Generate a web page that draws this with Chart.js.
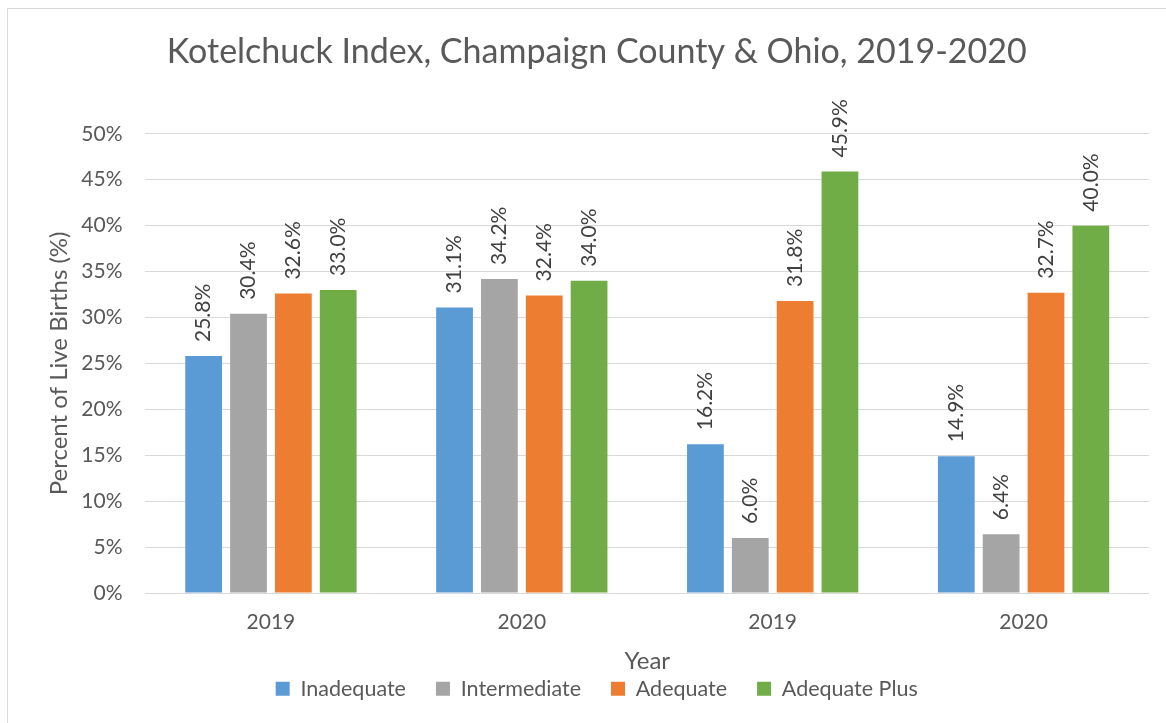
<!DOCTYPE html>
<html>
<head>
<meta charset="utf-8">
<script src="https://cdn.jsdelivr.net/npm/chart.js@4.4.0/dist/chart.umd.min.js"></script>
<style>
    html, body { margin: 0; padding: 0; background: #ffffff; }
    #wrap { position: relative; width: 1166px; height: 723px; }
</style>
</head>
<body>
<div id="wrap"><canvas id="kotelChart"></canvas></div>
<script>
// chart data
var years = ['2019', '2020', '2019', '2020']
var inadequate = [25.8, 31.1, 16.2, 14.9]
var intermediate = [30.4, 34.2, 6.0, 6.4]
var adequate = [32.6, 32.4, 31.8, 32.7]
var adequatePlus = [33.0, 34.0, 45.9, 40.0]
var yTicks = [0, 5, 10, 15, 20, 25, 30, 35, 40, 45, 50]

var FONT = 'Lato, "Open Sans", sans-serif'
var GREY_TEXT = '#595959'

// outer frame like the spreadsheet chart box
var framePlugin = {
    id: 'frame',
    beforeDraw: function (chart) {
        var ctx = chart.ctx
        ctx.save()
        ctx.fillStyle = '#ffffff'
        ctx.fillRect(0, 0, chart.width, chart.height)
        ctx.strokeStyle = '#d9d9d9'
        ctx.lineWidth = 1
        ctx.strokeRect(7.5, 8.5, chart.width, chart.height)
        ctx.restore()
    }
}

// rotated value labels above each bar
var valueLabels = {
    id: 'valueLabels',
    afterDatasetsDraw: function (chart) {
        var ctx = chart.ctx
        ctx.save()
        ctx.font = '21px ' + FONT
        ctx.fillStyle = '#404040'
        ctx.textAlign = 'left'
        ctx.textBaseline = 'middle'
        chart.data.datasets.forEach(function (ds, i) {
            chart.getDatasetMeta(i).data.forEach(function (bar, j) {
                ctx.save()
                ctx.translate(bar.x, bar.y - 14)
                ctx.rotate(-Math.PI / 2)
                ctx.fillText(ds.data[j].toFixed(1) + '%', 0, 0)
                ctx.restore()
            })
        })
        ctx.restore()
    }
}

var ctx1 = document.getElementById('kotelChart')

var kotelChart = new Chart(ctx1, {
    type: 'bar',
    data: {
        labels: years,
        datasets: [
            { label: 'Inadequate', data: inadequate, backgroundColor: '#5b9bd5' },
            { label: 'Intermediate', data: intermediate, backgroundColor: '#a5a5a5' },
            { label: 'Adequate', data: adequate, backgroundColor: '#ed7d31' },
            { label: 'Adequate Plus', data: adequatePlus, backgroundColor: '#70ad47' }
        ]
    },
    options: {
        responsive: true,
        maintainAspectRatio: false,
        animation: false,
        devicePixelRatio: 1,
        layout: {
            padding: { top: 32, right: 17, bottom: 13.5, left: 44.5 }
        },
        datasets: {
            bar: {
                categoryPercentage: 0.715,
                barPercentage: 0.82
            }
        },
        plugins: {
            title: {
                display: true,
                text: 'Kotelchuck Index, Champaign County & Ohio, 2019-2020',
                color: GREY_TEXT,
                font: { family: FONT, size: 34, weight: 'normal' },
                padding: { top: 0, bottom: 61 }
            },
            legend: {
                position: 'bottom',
                labels: {
                    color: GREY_TEXT,
                    font: { family: FONT, size: 21.5 },
                    boxWidth: 14,
                    boxHeight: 14,
                    padding: 30
                }
            },
            tooltip: { enabled: false }
        },
        scales: {
            x: {
                grid: { display: false },
                border: { display: false },
                ticks: {
                    color: GREY_TEXT,
                    font: { family: FONT, size: 21 },
                    padding: 9
                },
                title: {
                    display: true,
                    text: 'Year',
                    color: GREY_TEXT,
                    font: { family: FONT, size: 24 },
                    padding: { top: 3, bottom: -28 }
                }
            },
            y: {
                min: 0,
                max: 50,
                afterBuildTicks: function (axis) {
                    axis.ticks = yTicks.map(function (v) { return { value: v } })
                },
                grid: { color: '#d9d9d9', lineWidth: 1, drawTicks: false },
                border: { display: false },
                ticks: {
                    color: GREY_TEXT,
                    font: { family: FONT, size: 21 },
                    padding: 23,
                    callback: function (v) { return v + '%' }
                },
                title: {
                    display: true,
                    text: 'Percent of Live Births (%)',
                    color: GREY_TEXT,
                    font: { family: FONT, size: 24 },
                    padding: { top: 0, bottom: -15 }
                }
            }
        }
    },
    plugins: [framePlugin, valueLabels]
})
</script>
</body>
</html>
